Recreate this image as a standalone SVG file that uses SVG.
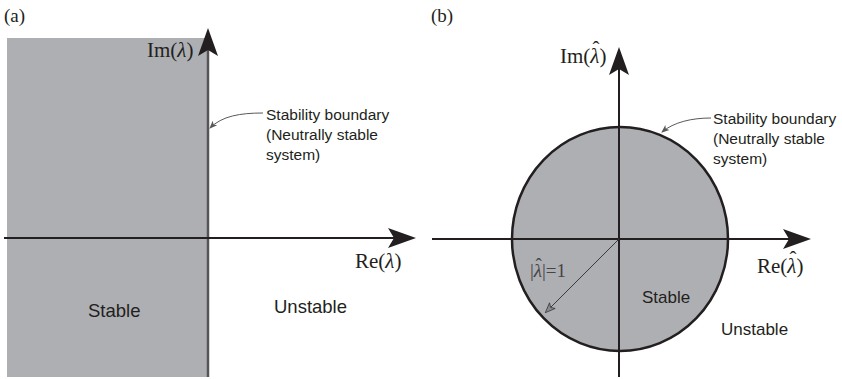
<svg xmlns="http://www.w3.org/2000/svg" width="842" height="379" viewBox="0 0 842 379">
<style>
.bg{fill:#ffffff}
.region{fill:#aeafb3}
.axis{stroke:#231f20;stroke-width:2;fill:none}
.axis-a{stroke:#555557;stroke-width:2.5;fill:none}
.bound{stroke:#231f20;stroke-width:2.5;fill:#aeafb3}
.callout{stroke:#58585a;stroke-width:1;fill:none}
.sans{font-family:"Liberation Sans",Arial,sans-serif;fill:#231f20}
.serif{font-family:"Liberation Serif","Times New Roman",serif;fill:#231f20}
.panel{font-size:19px}
.ax{font-size:21px}
.note{font-size:15.5px}
</style>
<defs>
<marker id="axhead" viewBox="-30 -11 31 22" markerWidth="31" markerHeight="22" refX="-6" refY="0" orient="auto" markerUnits="userSpaceOnUse">
<path d="M0,0 L-28,-10 L-22,0 L-28,10 Z" fill="#231f20"/>
</marker>
<marker id="smallhead" viewBox="-9 -4 10 8" markerWidth="10" markerHeight="8" refX="-1" refY="0" orient="auto" markerUnits="userSpaceOnUse">
<path d="M0,0 L-8,-3.2 L-6,0 L-8,3.2 Z" fill="#58585a"/>
</marker>
<marker id="radhead" viewBox="-11 -5 12 10" markerWidth="12" markerHeight="10" refX="-1" refY="0" orient="auto" markerUnits="userSpaceOnUse">
<path d="M0,0 L-10,-4 L-7.5,0 L-10,4 Z" fill="#8a8b8e" stroke="#3a3a3c" stroke-width="0.8"/>
</marker>
</defs>
<rect class="bg" x="0" y="0" width="842" height="379"/>

<g id="panel-a">
<text class="serif panel" x="4" y="22">(a)</text>
<g id="stable-region-a">
<rect class="region" x="7" y="38" width="201" height="339"/>
</g>
<g id="axes-a">
<line class="axis-a" x1="208" y1="377" x2="208" y2="34" marker-end="url(#axhead)"/>
<line class="axis" x1="4" y1="238" x2="410" y2="238" marker-end="url(#axhead)"/>
</g>
<g id="labels-a">
<text class="serif ax" x="147" y="57">Im(<tspan font-style="italic">λ</tspan>)</text>
<text class="serif ax" x="355" y="268">Re(<tspan font-style="italic">λ</tspan>)</text>
<text class="sans" font-size="18.5" x="88" y="317">Stable</text>
<text class="sans" font-size="18.5" x="274" y="313">Unstable</text>
</g>
<g id="note-a">
<text class="sans note" x="266" y="120">Stability boundary</text>
<text class="sans note" x="266" y="140">(Neutrally stable</text>
<text class="sans note" x="266" y="160">system)</text>
</g>
</g>

<g id="panel-b">
<text class="serif panel" x="431" y="22">(b)</text>
<g id="stable-region-b">
<ellipse class="bound" cx="620" cy="239" rx="108" ry="112"/>
</g>
<g id="axes-b">
<line class="axis" x1="619" y1="377" x2="619" y2="53" marker-end="url(#axhead)"/>
<line class="axis" x1="432" y1="239" x2="805" y2="239" marker-end="url(#axhead)"/>
</g>
<g id="labels-b">
<text class="serif ax" x="560" y="63">Im(<tspan font-style="italic">λ</tspan><tspan dx="-7" dy="-7">ˆ</tspan><tspan dx="0" dy="7">)</tspan></text>
<text class="serif ax" x="757" y="273">Re(<tspan font-style="italic">λ</tspan><tspan dx="-7" dy="-7">ˆ</tspan><tspan dx="0" dy="7">)</tspan></text>
<text class="serif" font-size="19" x="530" y="277" style="fill:#444446">|<tspan font-style="italic">λ</tspan><tspan dx="-6.5" dy="-6">ˆ</tspan><tspan dx="0" dy="6">|=1</tspan></text>
<text class="sans" font-size="17" x="642" y="303">Stable</text>
<text class="sans" font-size="17" x="721" y="335">Unstable</text>
</g>
<g id="note-b">
<text class="sans note" x="713" y="124">Stability boundary</text>
<text class="sans note" x="713" y="144">(Neutrally stable</text>
<text class="sans note" x="713" y="164">system)</text>
</g>
</g>

<g id="connectors">
<path class="callout" d="M263,113 C240,113 222,116 210,128" marker-end="url(#smallhead)"/>
<path class="callout" d="M711,118 C692,118 674,122 662,132" marker-end="url(#smallhead)"/>
<line class="callout" x1="619" y1="239" x2="546" y2="312" style="stroke:#3a3a3c" marker-end="url(#radhead)"/>
</g>
</svg>
